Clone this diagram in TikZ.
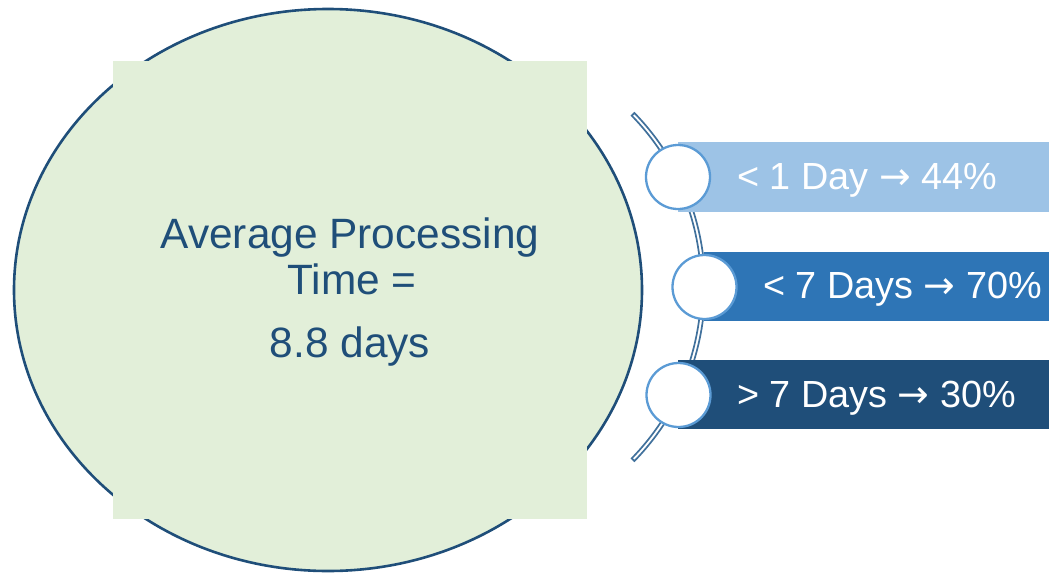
\documentclass[tikz,border=0pt]{standalone}
\usepackage{fontspec}
\setmainfont{Liberation Sans}
\newfontfamily\arrowfont{DejaVu Sans}
\usetikzlibrary{calc}
\definecolor{leaf}{HTML}{E2EFD9}
\definecolor{navy}{HTML}{1F4E79}
\definecolor{barA}{HTML}{9DC3E6}
\definecolor{barB}{HTML}{2E75B6}
\definecolor{barC}{HTML}{1F4E79}
\definecolor{ring}{HTML}{5B9BD5}
\definecolor{arccol}{HTML}{41719C}
\newcommand{\rarr}{{\arrowfont →}}
\tikzset{
  bigtxt/.style={text=navy, font=\fontsize{42.4pt}{46pt}\selectfont, inner sep=0pt, anchor=base},
  bartxt/.style={text=white, font=\fontsize{37.8pt}{40pt}\selectfont, inner sep=0pt, anchor=base west},
  barbox/.style={draw=none, minimum width=#1, minimum height=69.5pt, inner sep=0pt, anchor=west},
  dot/.style={circle, draw=ring, line width=2.3pt, fill=white, minimum size=64pt, inner sep=0pt},
}
\begin{document}
\begin{tikzpicture}[x=1pt,y=-1pt]
\useasboundingbox (0,0) rectangle (1049,573);
% big ellipse and square panel
\draw[navy, line width=2.6pt, fill=leaf] (328,290) ellipse [x radius=314pt, y radius=281pt];
\fill[leaf] (113,61) rectangle (587,519);
\node[bigtxt] (t1) at (350,248) {Average Processing};
\node[bigtxt] (t2) at (352,294) {Time =};
\node[bigtxt] (t3) at (350,357) {8.8 days};
% double arc
\coordinate (ac) at (455.5,287);
\draw[arccol, line width=1.7pt, fill=white]
  ($(ac)+(-44.2:249.6pt)$) arc[start angle=-44.2, end angle=44.2, radius=249.6pt]
  -- ($(ac)+(44.2:245.8pt)$) arc[start angle=44.2, end angle=-44.2, radius=245.8pt] -- cycle;
% bars
\node[barbox=371pt, fill=barA] (b1) at (678,177) {};
\node[barbox=345pt, fill=barB] (b2) at (704,286.5) {};
\node[barbox=371pt, fill=barC] (b3) at (678,394.5) {};
\node[dot] (c1) at (678,177) {};
\node[dot] (c2) at (704.5,287) {};
\node[dot] (c3) at (678.5,395) {};
\node[bartxt] (l1) at (737,189.5) {< 1 Day \rarr{} 44\%};
\node[bartxt] (l2) at (763,298) {< 7 Days \rarr{} 70\%};
\node[bartxt] (l3) at (737,407.5) {> 7 Days \rarr{} 30\%};
\end{tikzpicture}
\end{document}
